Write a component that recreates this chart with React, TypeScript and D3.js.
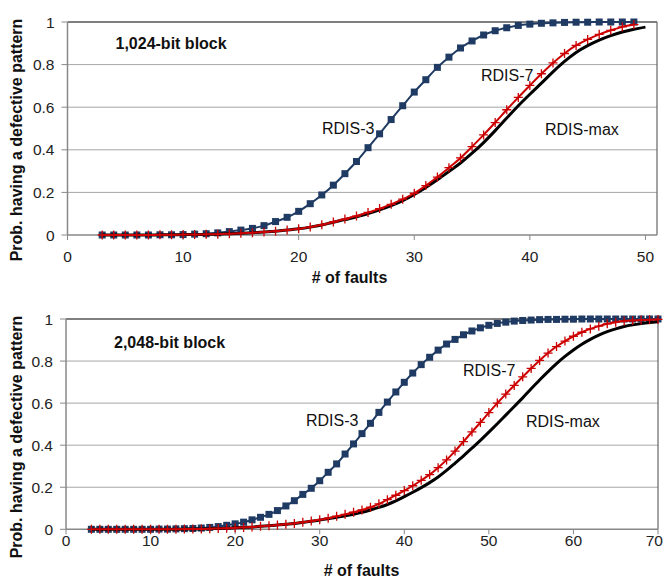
import React from 'react';
import * as d3 from 'd3';

// ---- data ----
const faults1024 = [3, 4, 5, 6, 7, 8, 9, 10, 11, 12, 13, 14, 15, 16, 17, 18, 19, 20, 21, 22, 23, 24, 25, 26,
  27, 28, 29, 30, 31, 32, 33, 34, 35, 36, 37, 38, 39, 40, 41, 42, 43, 44, 45, 46, 47, 48, 49];
const faults1024Max = [...faults1024, 50];
const rdis3_1024 = [0, 0, 0, 0, 0, 0.001, 0.001, 0.002, 0.004, 0.006, 0.01, 0.016, 0.023, 0.031, 0.044, 0.063,
  0.083, 0.111, 0.147, 0.188, 0.234, 0.288, 0.345, 0.41, 0.475, 0.542, 0.607, 0.671, 0.729, 0.787, 0.835, 0.878,
  0.911, 0.939, 0.959, 0.973, 0.984, 0.99, 0.994, 0.996, 0.998, 0.999, 0.999, 1, 1, 1, 1];
const rdis7_1024 = [0, 0, 0, 0, 0, 0.001, 0.001, 0.002, 0.002, 0.003, 0.004, 0.006, 0.008, 0.011, 0.014, 0.018,
  0.023, 0.029, 0.037, 0.048, 0.061, 0.075, 0.089, 0.106, 0.124, 0.144, 0.168, 0.196, 0.232, 0.272, 0.316, 0.362,
  0.415, 0.47, 0.528, 0.588, 0.646, 0.702, 0.757, 0.808, 0.852, 0.89, 0.918, 0.942, 0.961, 0.977, 0.988];
const rdisMax_1024 = [0, 0, 0, 0, 0, 0.001, 0.001, 0.002, 0.002, 0.003, 0.004, 0.006, 0.008, 0.011, 0.014, 0.018,
  0.023, 0.029, 0.037, 0.047, 0.06, 0.072, 0.086, 0.101, 0.118, 0.138, 0.161, 0.19, 0.223, 0.259, 0.298, 0.338,
  0.384, 0.434, 0.49, 0.549, 0.607, 0.661, 0.713, 0.766, 0.815, 0.857, 0.889, 0.915, 0.936, 0.953, 0.966, 0.976];

const faults2048 = [3, 4, 5, 6, 7, 8, 9, 10, 11, 12, 13, 14, 15, 16, 17, 18, 19, 20, 21, 22, 23, 24, 25, 26,
  27, 28, 29, 30, 31, 32, 33, 34, 35, 36, 37, 38, 39, 40, 41, 42, 43, 44, 45, 46, 47, 48, 49, 50, 51, 52, 53,
  54, 55, 56, 57, 58, 59, 60, 61, 62, 63, 64, 65, 66, 67, 68, 69, 70];
const rdis3_2048 = [0, 0, 0, 0, 0, 0, 0, 0, 0.001, 0.001, 0.002, 0.003, 0.004, 0.006, 0.009, 0.013, 0.019, 0.026,
  0.034, 0.045, 0.057, 0.071, 0.089, 0.111, 0.136, 0.166, 0.195, 0.231, 0.271, 0.311, 0.358, 0.406, 0.455, 0.504,
  0.556, 0.605, 0.653, 0.699, 0.743, 0.783, 0.818, 0.852, 0.881, 0.903, 0.925, 0.943, 0.958, 0.97, 0.979, 0.985,
  0.99, 0.993, 0.995, 0.997, 0.998, 0.998, 0.999, 0.999, 1, 1, 1, 1, 1, 1, 1, 1, 1, 1];
const rdis7_2048 = [0, 0, 0, 0, 0, 0, 0, 0, 0, 0, 0, 0.001, 0.001, 0.002, 0.003, 0.004, 0.005, 0.007, 0.009, 0.011,
  0.014, 0.017, 0.02, 0.024, 0.028, 0.033, 0.039, 0.046, 0.053, 0.062, 0.071, 0.081, 0.092, 0.105, 0.121, 0.141,
  0.162, 0.184, 0.207, 0.233, 0.26, 0.293, 0.33, 0.372, 0.417, 0.463, 0.508, 0.555, 0.6, 0.643, 0.684, 0.725,
  0.765, 0.803, 0.838, 0.869, 0.895, 0.918, 0.937, 0.953, 0.966, 0.977, 0.985, 0.99, 0.993, 0.995, 0.997, 0.998];
const rdisMax_2048 = [0, 0, 0, 0, 0, 0, 0, 0, 0, 0, 0, 0.001, 0.001, 0.002, 0.003, 0.004, 0.005, 0.007, 0.009, 0.011,
  0.014, 0.017, 0.02, 0.024, 0.028, 0.033, 0.038, 0.044, 0.05, 0.057, 0.064, 0.072, 0.081, 0.092, 0.104, 0.118,
  0.135, 0.155, 0.176, 0.198, 0.222, 0.249, 0.28, 0.314, 0.349, 0.386, 0.423, 0.462, 0.502, 0.543, 0.584, 0.625,
  0.668, 0.71, 0.75, 0.788, 0.822, 0.853, 0.88, 0.903, 0.923, 0.94, 0.953, 0.964, 0.972, 0.978, 0.983, 0.987];

const yTicks = [0, 0.2, 0.4, 0.6, 0.8, 1];
const xTicks1024 = [0, 10, 20, 30, 40, 50];
const xTicks2048 = [0, 10, 20, 30, 40, 50, 60, 70];

const FONT = 'Liberation Sans, Arial, sans-serif';
const BLUE = '#1f3b63';
const RED = '#cc0000';
const W = 664;

type Lbl = { text: string; x: number; y: number };

function Panel(props: any) {
  const { box, xMax, xTicks, s3, s7, sMax, title, labels, tickY, titleY, titleX, yTitleY } = props;
  const x = d3.scaleLinear().domain([0, xMax]).range([box.left, box.right]);
  const y = d3.scaleLinear().domain([0, 1]).range([box.bottom, box.top]);
  const line = d3.line<[number, number]>()
    .x(d => x(d[0]))
    .y(d => y(d[1]))
    .curve(d3.curveMonotoneX);
  const pts = (xs: number[], vs: number[]) => xs.map((f, i) => [f, vs[i]] as [number, number]);
  const p3 = pts(s3.x, s3.v), p7 = pts(s7.x, s7.v), pm = pts(sMax.x, sMax.v);

  return (
    <g>
      {/* grid */}
      {yTicks.filter(t => t > 0 && t < 1).map(t => (
        <line key={'g' + t} x1={box.left} x2={box.right} y1={y(t)} y2={y(t)} stroke="#a6a6a6" strokeWidth={1} />
      ))}
      <line x1={box.left} x2={box.right} y1={box.top} y2={box.top} stroke="#555" strokeWidth={1.5} />
      <line x1={box.right} x2={box.right} y1={box.top} y2={box.bottom} stroke="#666" strokeWidth={1.2} />
      {/* axes */}
      <line x1={box.left} x2={box.left} y1={box.top} y2={box.bottom} stroke="#888" strokeWidth={1.5} />
      <line x1={box.left} x2={box.right} y1={box.bottom} y2={box.bottom} stroke="#888" strokeWidth={1.5} />
      {yTicks.map(t => (
        <g key={'y' + t}>
          <line x1={box.left - 6} x2={box.left} y1={y(t)} y2={y(t)} stroke="#888" strokeWidth={1} />
          <text x={box.left - 13} y={y(t) + 5.5} textAnchor="end" fontSize={15.5} fontFamily={FONT} fill="#222">{t}</text>
        </g>
      ))}
      {xTicks.map((t: number) => {
        const near = x(t) + 9 > W - 1;
        return (
          <g key={'x' + t}>
            <line x1={x(t)} x2={x(t)} y1={box.bottom} y2={box.bottom + 5} stroke="#888" strokeWidth={1} />
            <text x={near ? W - 1 : x(t)} y={tickY} textAnchor={near ? 'end' : 'middle'} fontSize={15.5} fontFamily={FONT} fill="#222">{t}</text>
          </g>
        );
      })}
      <text x={titleX} y={titleY} textAnchor="middle" fontSize={16} fontWeight="bold" fontFamily={FONT} fill="#111"># of faults</text>
      <text transform={`translate(22,${yTitleY}) rotate(-90)`} textAnchor="middle" fontSize={16} fontWeight="bold" fontFamily={FONT} fill="#111">Prob. having a defective pattern</text>

      {/* RDIS-3 */}
      <path d={line(p3) || ''} fill="none" stroke={BLUE} strokeWidth={2} />
      {p3.map((d, i) => (
        <rect key={'s' + i} x={x(d[0]) - 3.5} y={y(d[1]) - 3.5} width={7} height={7} fill={BLUE} />
      ))}
      {/* RDIS-max */}
      <path d={line(pm) || ''} fill="none" stroke="#000" strokeWidth={3} />
      {/* RDIS-7 */}
      <path d={line(p7) || ''} fill="none" stroke={RED} strokeWidth={2} />
      {p7.map((d, i) => (
        <path key={'p' + i} transform={`translate(${x(d[0])},${y(d[1])})`} d="M-4.5,0H4.5M0,-4.5V4.5" stroke={RED} strokeWidth={1.3} fill="none" />
      ))}

      <text x={box.left + 48} y={title.y} fontSize={16} fontWeight="bold" fontFamily={FONT} fill="#111">{title.text}</text>
      {labels.map((l: Lbl) => (
        <text key={l.text} x={l.x} y={l.y} fontSize={16} fontFamily={FONT} fill="#111">{l.text}</text>
      ))}
    </g>
  );
}

export default function App() {
  return (
    <svg width={W} height={579} style={{ position: 'absolute', left: 0, top: 0, background: '#fff' }}>
      <Panel
        box={{ left: 67.5, right: 657, top: 22, bottom: 235 }}
        xMax={51}
        xTicks={xTicks1024}
        s3={{ x: faults1024, v: rdis3_1024 }}
        s7={{ x: faults1024, v: rdis7_1024 }}
        sMax={{ x: faults1024Max, v: rdisMax_1024 }}
        title={{ text: '1,024-bit block', y: 49 }}
        labels={[
          { text: 'RDIS-3', x: 322, y: 134 },
          { text: 'RDIS-7', x: 481, y: 81 },
          { text: 'RDIS-max', x: 545, y: 135 },
        ]}
        tickY={261.5}
        titleX={349.5}
        titleY={283}
        yTitleY={140}
      />
      <Panel
        box={{ left: 66, right: 658, top: 319, bottom: 529.3 }}
        xMax={70}
        xTicks={xTicks2048}
        s3={{ x: faults2048, v: rdis3_2048 }}
        s7={{ x: faults2048, v: rdis7_2048 }}
        sMax={{ x: faults2048, v: rdisMax_2048 }}
        title={{ text: '2,048-bit block', y: 347.5 }}
        labels={[
          { text: 'RDIS-3', x: 306, y: 426 },
          { text: 'RDIS-7', x: 463, y: 376 },
          { text: 'RDIS-max', x: 526, y: 427 },
        ]}
        tickY={545.5}
        titleX={361.5}
        titleY={576}
        yTitleY={437}
      />
    </svg>
  );
}
